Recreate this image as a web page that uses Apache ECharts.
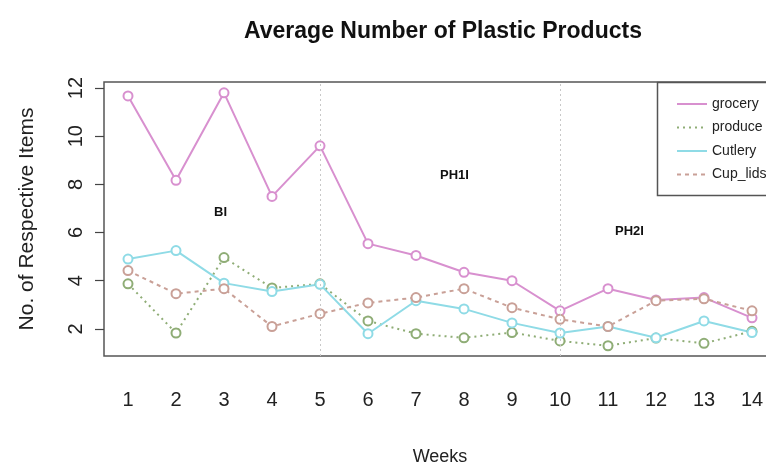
<!DOCTYPE html>
<html>
<head>
<meta charset="utf-8">
<script src="https://cdn.jsdelivr.net/npm/echarts@6/dist/echarts.min.js"></script>
<style>
  html, body { margin: 0; padding: 0; background: #fff; }
  #chart { width: 766px; height: 463px; }
</style>
</head>
<body>
<div id="chart"></div>
<script>
var weeks = ['1', '2', '3', '4', '5', '6', '7', '8', '9', '10', '11', '12', '13', '14']
var grocery = [11.67, 8.17, 11.8, 7.5, 9.6, 5.54, 5.05, 4.35, 4.0, 2.75, 3.67, 3.2, 3.3, 2.46]
var produce = [3.87, 1.83, 4.96, 3.7, 3.87, 2.33, 1.8, 1.63, 1.85, 1.5, 1.3, 1.62, 1.4, 1.9]
var cutlery = [4.9, 5.25, 3.9, 3.55, 3.85, 1.8, 3.17, 2.83, 2.25, 1.83, 2.1, 1.63, 2.33, 1.85]
var cupLids = [4.42, 3.46, 3.67, 2.1, 2.63, 3.08, 3.3, 3.67, 2.88, 2.4, 2.1, 3.17, 3.25, 2.75]
var yTicks = [2, 4, 6, 8, 10, 12]
var phaseBreaks = ['5', '10']

var font = '"Liberation Sans", Arial, sans-serif'
var myChart = echarts.init(document.getElementById('chart'))

function makeSeries(name, data, color, type) {
  return {
    name: name,
    type: 'line',
    data: data,
    symbol: 'emptyCircle',
    symbolSize: 9,
    lineStyle: { color: color, width: 2, type: type },
    itemStyle: { color: color, borderColor: color, borderWidth: 1.5 },
    emphasis: { disabled: true }
  }
}

var series = [
  makeSeries('grocery', grocery, '#d890cf', 'solid'),
  makeSeries('produce', produce, '#8fad76', [2, 4]),
  makeSeries('Cutlery', cutlery, '#8fdbe6', 'solid'),
  makeSeries('Cup_lids', cupLids, '#c9a097', [4, 4])
]
// dotted phase separators at week 5 and week 10
series[0].markLine = {
  silent: true,
  symbol: 'none',
  label: { show: false },
  lineStyle: { color: '#c8c8c8', type: [2, 3], width: 1 },
  data: phaseBreaks.map(function (w) { return { xAxis: w } })
}

var option = {
  backgroundColor: '#fff',
  animation: false,
  title: {
    text: 'Average Number of Plastic Products',
    left: 438,
    top: 15,
    textAlign: 'center',
    textStyle: { fontFamily: font, fontSize: 23, fontWeight: 'bold', color: '#111' }
  },
  legend: {
    orient: 'vertical',
    left: 671,
    top: 92,
    itemWidth: 30,
    itemHeight: 14,
    itemGap: 9.5,
    textStyle: { fontFamily: font, fontSize: 14, color: '#222' },
    itemStyle: { opacity: 0 },
    data: ['grocery', 'produce', 'Cutlery', 'Cup_lids']
  },
  grid: {
    left: 104,
    top: 82,
    width: 672,
    height: 274,
    outerBoundsMode: 'none',
    containLabel: false,
    show: true,
    borderColor: '#555',
    borderWidth: 1.5,
    backgroundColor: 'transparent'
  },
  xAxis: {
    type: 'category',
    data: weeks,
    boundaryGap: true,
    name: 'Weeks',
    nameLocation: 'middle',
    nameGap: 92,
    nameTextStyle: { fontFamily: font, fontSize: 18, color: '#222' },
    axisLine: { show: false },
    axisTick: { alignWithLabel: true, length: 15, lineStyle: { color: '#444', width: 1.2 } },
    axisLabel: { margin: 34, fontFamily: font, fontSize: 20, color: '#222', interval: 0 },
    splitLine: { show: false }
  },
  yAxis: {
    type: 'value',
    min: 0.875,
    max: 12.25,
    name: 'No. of Respective Items',
    nameLocation: 'middle',
    nameGap: 66,
    nameTextStyle: { fontFamily: font, fontSize: 21, color: '#222' },
    axisLine: { show: false },
    axisTick: { show: true, length: 9, customValues: yTicks, lineStyle: { color: '#444', width: 1.2 } },
    axisLabel: { rotate: 90, margin: 18, fontFamily: font, fontSize: 20, color: '#222', customValues: yTicks },
    splitLine: { show: false }
  },
  graphic: [
    { type: 'rect', left: 655, top: 80, shape: { width: 150, height: 113 }, style: { fill: 'none', stroke: '#555', lineWidth: 1.5 } },
    { type: 'text', left: 214, top: 206, style: { text: 'BI', font: 'bold 13px ' + font, fill: '#111' } },
    { type: 'text', left: 440, top: 169, style: { text: 'PH1I', font: 'bold 13px ' + font, fill: '#111' } },
    { type: 'text', left: 615, top: 225, style: { text: 'PH2I', font: 'bold 13px ' + font, fill: '#111' } }
  ],
  series: series
}
myChart.setOption(option)
</script>
</body>
</html>
